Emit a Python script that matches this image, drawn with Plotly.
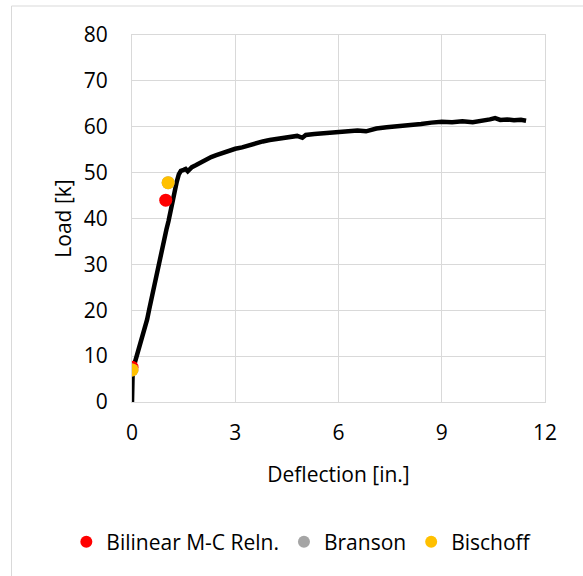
import plotly.graph_objects as go

# Measured load-deflection response
deflection = [0, 0, 0.02, 0.06, 0.12, 0.2, 0.28, 0.36, 0.44, 0.5, 0.58, 0.66, 0.72, 0.77, 0.84,
              0.93, 1.0, 1.06, 1.1, 1.14, 1.17, 1.21, 1.25, 1.3, 1.36, 1.42, 1.5, 1.56, 1.62, 1.68,
              1.74, 1.85, 2.0, 2.15, 2.3, 2.45, 2.6, 2.8, 3.0, 3.2, 3.4, 3.6, 3.8, 4.0, 4.3,
              4.6, 4.8, 4.95, 5.05, 5.3, 5.6, 6.0, 6.3, 6.55, 6.8, 7.1, 7.4, 7.8, 8.1, 8.4,
              8.7, 9.0, 9.3, 9.6, 9.9, 10.2, 10.4, 10.55, 10.7, 10.9, 11.1, 11.3, 11.45]
load = [0, 4.4, 7.0, 8.0, 9.5, 11.2, 13.2, 15.6, 18.0, 20.2, 23.0, 26.4, 28.6, 30.6, 33.0,
        35.6, 37.6, 39.4, 41.0, 42.6, 43.6, 45.0, 46.6, 48.0, 49.6, 50.4, 50.6, 50.8, 50.3, 50.7,
        51.2, 51.6, 52.2, 52.9, 53.4, 53.8, 54.2, 54.7, 55.2, 55.5, 56.0, 56.3, 56.8, 57.1, 57.5,
        57.9, 58.0, 57.6, 58.2, 58.4, 58.6, 58.9, 59.0, 59.2, 59.0, 59.6, 59.9, 60.1, 60.3, 60.6,
        60.9, 61.1, 61.0, 61.2, 61.0, 61.3, 61.6, 61.9, 61.5, 61.6, 61.4, 61.5, 61.3]

# Predicted cracking / yield points
bilinear_x = [0.0, 0.98]
bilinear_y = [7.6, 44.0]
branson_x = [0.0, 1.05]
branson_y = [7.0, 47.8]
bischoff_x = [0.0, 1.05]
bischoff_y = [7.0, 47.8]

x_ticks = [0, 3, 6, 9, 12]
y_ticks = [0, 10, 20, 30, 40, 50, 60, 70, 80]

FONT = "'Open Sans', sans-serif"
GRID = "#d9d9d9"

fig = go.Figure()
fig.add_trace(go.Scatter(x=deflection, y=load, mode="lines",
                         line=dict(color="black", width=4.5), showlegend=False,
                         hoverinfo="skip"))
fig.add_trace(go.Scatter(x=bilinear_x, y=bilinear_y, mode="markers", name="Bilinear M-C Reln.",
                         marker=dict(color="#ff0000", size=13)))
fig.add_trace(go.Scatter(x=branson_x, y=branson_y, mode="markers", name="Branson",
                         marker=dict(color="#a5a5a5", size=13)))
fig.add_trace(go.Scatter(x=bischoff_x, y=bischoff_y, mode="markers", name="Bischoff",
                         marker=dict(color="#ffc000", size=13)))

fig.update_layout(
    width=583, height=576,
    margin=dict(l=131.6, r=38, t=35, b=173.5, autoexpand=False),
    paper_bgcolor="white", plot_bgcolor="white",
    font=dict(family=FONT, size=21, color="black"),
    legend=dict(orientation="h", x=-0.159, xanchor="left", y=-0.382, yanchor="middle",
                font=dict(size=21), itemsizing="constant", itemwidth=30),
    shapes=[dict(type="rect", xref="paper", yref="paper",
                 x0=-0.2917, x1=1.3, y0=-0.6, y1=1.079,
                 line=dict(color=GRID, width=1), layer="below")],
)
fig.update_xaxes(range=[0, 12], tickvals=x_ticks, showgrid=True, gridcolor=GRID, gridwidth=1,
                 zeroline=False, showline=True, linecolor=GRID, mirror=True,
                 ticks="", ticklabelstandoff=12,
                 title=dict(text="Deflection [in.]", standoff=22, font=dict(size=21)))
fig.update_yaxes(range=[0, 80], tickvals=y_ticks, showgrid=True, gridcolor=GRID, gridwidth=1,
                 zeroline=False, showline=True, linecolor=GRID, mirror=True,
                 ticks="", ticklabelstandoff=19,
                 title=dict(text="Load [k]", standoff=6, font=dict(size=21)))

fig.write_html("out.html")
